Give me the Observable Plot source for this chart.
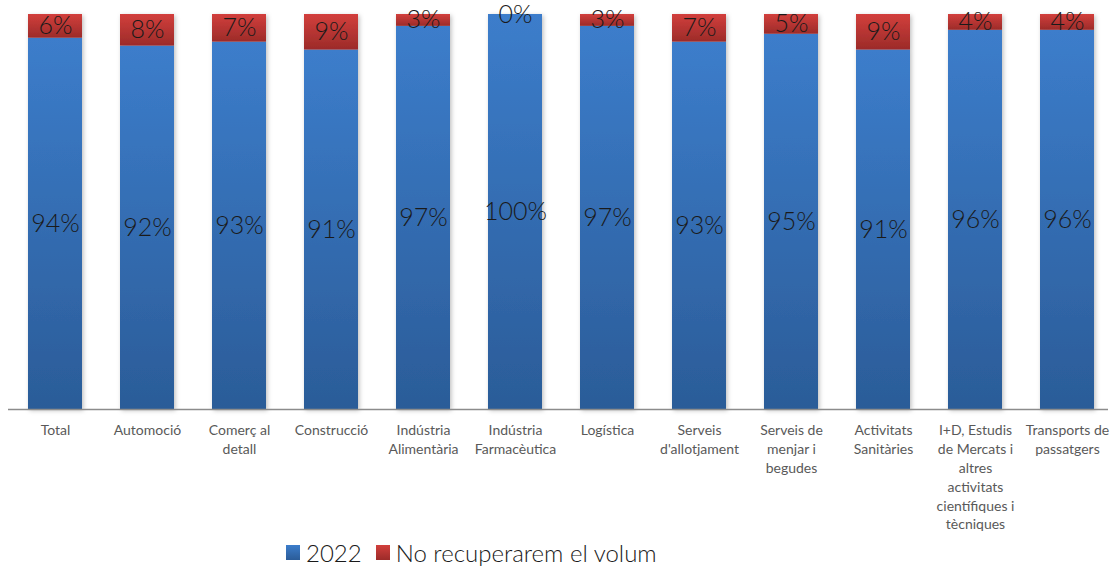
<!DOCTYPE html>
<html><head><meta charset="utf-8">
<script src="https://cdn.jsdelivr.net/npm/d3@7"></script>
<script src="https://cdn.jsdelivr.net/npm/@observablehq/plot@0.6"></script>
<style>
body{margin:0;background:#fff;font-family:Lato,"Noto Sans",sans-serif}
#legend{display:flex;justify-content:flex-start;align-items:center;height:34px;padding-left:286px;font-size:24px;font-weight:300;color:#1a1a1a}
#legend .sw{width:14px;height:15px;display:inline-block;margin-right:6px}
#legend .item{display:flex;align-items:center;margin-right:14px}
svg{overflow:visible}
</style></head><body><div id="chart"></div><div id="legend"></div><script>
const categories = ["Total","Automoció","Comerç al detall","Construcció","Indústria Alimentària","Indústria Farmacèutica","Logística","Serveis d'allotjament","Serveis de menjar i begudes","Activitats Sanitàries","I+D, Estudis de Mercats i altres activitats científiques i tècniques","Transports de passatgers"];
const tickLabels = ["Total","Automoció","Comerç al\ndetall","Construcció","Indústria\nAlimentària","Indústria\nFarmacèutica","Logística","Serveis\nd'allotjament","Serveis de\nmenjar i\nbegudes","Activitats\nSanitàries","I+D, Estudis\nde Mercats i\naltres\nactivitats\ncientífiques i\ntècniques","Transports de\npassatgers"];
const values2022 = [94,92,93,91,97,100,97,93,95,91,96,96];
const valuesNo = [6,8,7,9,3,0,3,7,5,9,4,4];
const seriesNames = ["2022","No recuperarem el volum"];
const seriesFills = ["url(#gBlue)","url(#gRed)"];

const data = [];
categories.forEach((c,i)=>{
  data.push({cat:c, series:seriesNames[0], value:values2022[i]});
  data.push({cat:c, series:seriesNames[1], value:valuesNo[i]});
});
const tickMap = new Map(categories.map((c,i)=>[c,tickLabels[i]]));

const chart = Plot.plot({
  width:1114, height:535,
  marginTop:14, marginBottom:126, marginLeft:8, marginRight:0,
  x:{domain:categories, paddingInner:0.41, paddingOuter:0.205, label:null},
  y:{domain:[0,100], axis:null},
  color:{domain:seriesNames, range:seriesFills},
  style:{fontFamily:'Lato,"Noto Sans",sans-serif', background:"#fff", overflow:"visible"},
  marks:[
    Plot.barY(data, Plot.stackY({x:"cat", y:"value", fill:"series", order:seriesNames})),
    Plot.ruleY([0], {stroke:"#8c8c8c", strokeWidth:1.5, insetRight:6}),
    Plot.axisX({tickSize:0, tickPadding:12, fontSize:14, lineHeight:1.35, fill:"#595959", tickFormat:d=>tickMap.get(d), label:null, lineAnchor:"top"}),
    Plot.text(data, Plot.stackY({x:"cat", y:"value", z:"series", order:seriesNames, text:d=>d.value+"%", fill:"#1a1a1a", fontSize:25, fontWeight:300}))
  ]
});

const svgNS="http://www.w3.org/2000/svg";
const defs=document.createElementNS(svgNS,"defs");
defs.innerHTML=`
<linearGradient id="gBlue" x1="0" y1="0" x2="0" y2="1"><stop offset="0" stop-color="#3c7dcb"/><stop offset="1" stop-color="#2b5c98"/></linearGradient>
<linearGradient id="gRed" x1="0" y1="0" x2="0" y2="1"><stop offset="0" stop-color="#d23f3c"/><stop offset="1" stop-color="#9c2b29"/></linearGradient>
<filter id="shadow" x="-20%" y="-5%" width="140%" height="110%"><feDropShadow dx="1.5" dy="1.5" stdDeviation="2" flood-color="#000" flood-opacity="0.25"/></filter>`;
chart.insertBefore(defs, chart.firstChild);
const barG = chart.querySelector('g[aria-label="bar"]');
if(barG) barG.setAttribute("filter","url(#shadow)");
document.getElementById("chart").appendChild(chart);

const legend=document.getElementById("legend");
const grads=["linear-gradient(#3c7dcb,#2b5c98)","linear-gradient(#d23f3c,#9c2b29)"];
seriesNames.forEach((s,i)=>{
  const it=document.createElement("span");it.className="item";
  const sw=document.createElement("span");sw.className="sw";sw.style.background=grads[i];
  it.appendChild(sw);it.appendChild(document.createTextNode(s));legend.appendChild(it);
});
</script></body></html>
